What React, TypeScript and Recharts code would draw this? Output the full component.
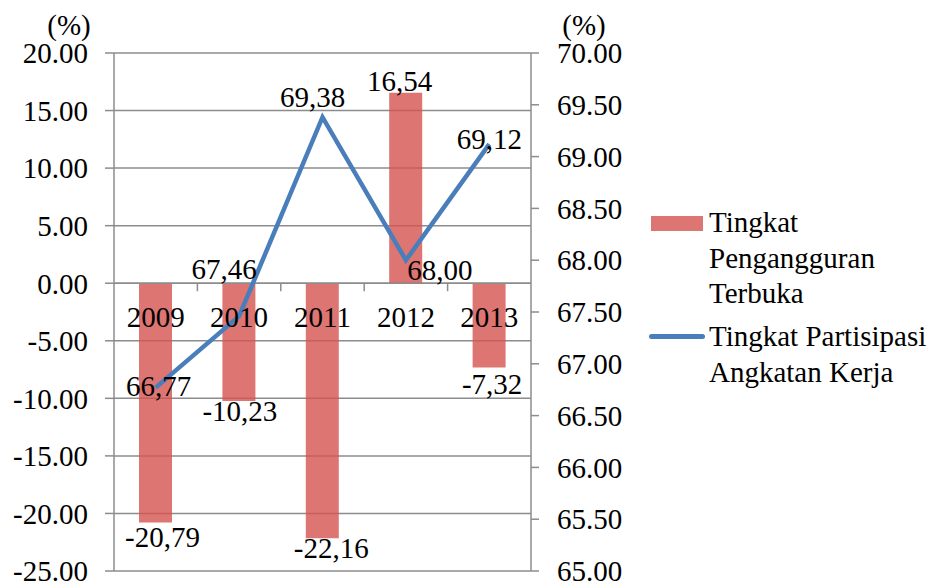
import {
  ComposedChart,
  Bar,
  Line,
  XAxis,
  YAxis,
  CartesianGrid,
  ReferenceLine,
  LabelList,
} from "recharts";

const years = ["2009", "2010", "2011", "2012", "2013"];
const unemployment = [-20.79, -10.23, -22.16, 16.54, -7.32];
const participation = [66.77, 67.46, 69.38, 68.0, 69.12];
const leftTicks = [-25, -20, -15, -10, -5, 0, 5, 10, 15, 20];
const rightTicks = [65, 65.5, 66, 66.5, 67, 67.5, 68, 68.5, 69, 69.5, 70];
const seriesNames = ["Tingkat Pengangguran Terbuka", "Tingkat Partisipasi Angkatan Kerja"];

// nudges for the hand-placed data labels of the original, in px
const barLabelShift = [[7, 14], [1, 10], [9, 10], [-6, -12], [3, 17]];
const lineLabelShift = [[3, -2], [-15, -47], [-10, -20], [34, 10], [0, -5]];

const FONT = '"Liberation Serif", "Times New Roman", serif';
const FS = 29;
const AXIS = "#8c8c8c";
const RED = "#d4524f";
const BLUE = "#4a7ebb";

const W = 937;
const H = 582;
const X_H = 10;
const MARGIN = { top: 53, right: 316, bottom: 1, left: 0 };
const LEFT_W = 114;
const RIGHT_W = 90;
const PLOT_W = W - MARGIN.left - MARGIN.right - LEFT_W - RIGHT_W;
const PLOT_H = H - MARGIN.top - MARGIN.bottom - X_H;
const lMin = leftTicks[0];
const lMax = leftTicks[leftTicks.length - 1];
const zeroY = MARGIN.top + (PLOT_H * lMax) / (lMax - lMin);

const data = years.map((year, i) => ({
  year,
  tpt: unemployment[i],
  tpak: participation[i],
}));

const fmtComma = (v: number) => v.toFixed(2).replace(".", ",");

function YearTick(props: any) {
  const { x, payload, index } = props;
  const half = PLOT_W / years.length / 2;
  return (
    <g>
      {index > 0 && (
        <line x1={x - half} x2={x - half} y1={zeroY} y2={zeroY + 8} stroke={AXIS} strokeWidth={1.5} />
      )}
      <text
        x={x}
        y={zeroY + 34}
        textAnchor="middle"
        dominantBaseline="central"
        fontFamily={FONT}
        fontSize={FS}
        fill="#000"
      >
        {payload.value}
      </text>
    </g>
  );
}

function BarValueLabel(props: any) {
  const vb = props.viewBox ?? props;
  const x = vb.x ?? props.x;
  const y = vb.y ?? props.y;
  const width = vb.width ?? props.width;
  const height = vb.height ?? props.height;
  const value = Number(props.value);
  const i = props.index ?? unemployment.indexOf(value);
  const [dx, dy] = barLabelShift[i] ?? [0, 0];
  const top = Math.min(y, y + height);
  const bottom = Math.max(y, y + height);
  const cy = (value < 0 ? bottom : top) + dy;
  return (
    <text
      x={x + width / 2 + dx}
      y={cy}
      textAnchor="middle"
      dominantBaseline="central"
      fontFamily={FONT}
      fontSize={FS}
      fill="#000"
    >
      {fmtComma(value)}
    </text>
  );
}

function LineValueLabel(props: any) {
  const value = Number(props.value);
  const i = props.index ?? participation.indexOf(value);
  const [dx, dy] = lineLabelShift[i] ?? [0, 0];
  return (
    <text
      x={props.x + dx}
      y={props.y + dy}
      textAnchor="middle"
      dominantBaseline="central"
      fontFamily={FONT}
      fontSize={FS}
      fill="#000"
    >
      {fmtComma(value)}
    </text>
  );
}

export default function App() {
  const tickStyle = { fill: "#000", fontSize: FS, fontFamily: FONT };
  return (
    <div
      style={{
        position: "absolute",
        left: 0,
        top: 0,
        width: W,
        height: H,
        fontFamily: FONT,
        background: "#fff",
      }}
    >
      <ComposedChart width={W} height={H} data={data} margin={MARGIN}>
        <CartesianGrid yAxisId="left" vertical={false} stroke={AXIS} strokeWidth={1.5} />
        <XAxis
          dataKey="year"
          height={X_H}
          axisLine={false}
          tickLine={false}
          interval={0}
          tick={(p: any) => <YearTick {...p} />}
        />
        <YAxis
          yAxisId="left"
          width={LEFT_W}
          domain={[lMin, lMax]}
          ticks={leftTicks}
          interval={0}
          tickFormatter={(v: number) => v.toFixed(2)}
          tick={tickStyle}
          axisLine={{ stroke: AXIS, strokeWidth: 1.5 }}
          tickLine={{ stroke: AXIS, strokeWidth: 1.5 }}
          tickSize={9}
          tickMargin={17}
        />
        <YAxis
          yAxisId="right"
          orientation="right"
          width={RIGHT_W}
          domain={[rightTicks[0], rightTicks[rightTicks.length - 1]]}
          ticks={rightTicks}
          interval={0}
          tickFormatter={(v: number) => v.toFixed(2)}
          tick={tickStyle}
          axisLine={{ stroke: AXIS, strokeWidth: 1.5 }}
          tickLine={{ stroke: AXIS, strokeWidth: 1.5 }}
          tickSize={8}
          tickMargin={18}
        />
        <Bar
          yAxisId="left"
          dataKey="tpt"
          name={seriesNames[0]}
          fill={RED}
          fillOpacity={0.8}
          barSize={33}
          isAnimationActive={false}
        >
          <LabelList dataKey="tpt" content={<BarValueLabel />} />
        </Bar>
        <ReferenceLine yAxisId="left" y={0} stroke={AXIS} strokeWidth={1.5} />
        <Line
          yAxisId="right"
          dataKey="tpak"
          name={seriesNames[1]}
          type="linear"
          stroke={BLUE}
          strokeWidth={4.5}
          dot={false}
          activeDot={false}
          isAnimationActive={false}
        >
          <LabelList dataKey="tpak" content={<LineValueLabel />} />
        </Line>
      </ComposedChart>

      <div style={{ position: "absolute", left: 39, top: 11, width: 60, textAlign: "center", fontSize: FS, lineHeight: "28px" }}>
        (%)
      </div>
      <div style={{ position: "absolute", left: 554, top: 11, width: 60, textAlign: "center", fontSize: FS, lineHeight: "28px" }}>
        (%)
      </div>

      <div style={{ position: "absolute", left: 651, top: 216, width: 52, height: 15, background: RED, opacity: 0.8 }} />
      <div style={{ position: "absolute", left: 709, top: 205, width: 228, fontSize: FS, lineHeight: "35.5px" }}>
        {seriesNames[0]}
      </div>
      <div style={{ position: "absolute", left: 649, top: 334, width: 56, height: 4.5, borderRadius: 3, background: BLUE }} />
      <div style={{ position: "absolute", left: 709, top: 319, width: 228, fontSize: FS, lineHeight: "35.5px" }}>
        {seriesNames[1]}
      </div>
    </div>
  );
}
